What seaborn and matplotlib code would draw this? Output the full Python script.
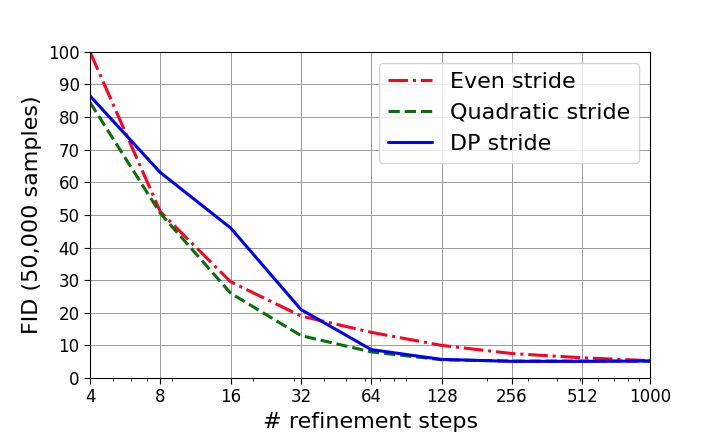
import matplotlib
matplotlib.use("Agg")
import matplotlib.pyplot as plt
import seaborn as sns
import pandas as pd

# refinement steps and FID values
steps = [4, 8, 16, 32, 64, 128, 256, 512, 1000]
even_fid = [100.0, 51.0, 29.5, 19.0, 14.0, 10.0, 7.5, 6.2, 5.3]
quad_fid = [84.5, 50.5, 26.0, 13.0, 8.0, 5.6, 5.2, 5.2, 5.2]
dp_fid = [86.5, 63.0, 46.0, 21.0, 8.7, 5.7, 5.1, 5.1, 5.2]
series_names = ["Even stride", "Quadratic stride", "DP stride"]
xtick_labels = ["4", "8", "16", "32", "64", "128", "256", "512", "1000"]

df = pd.DataFrame({
    "steps": steps * 3,
    "fid": even_fid + quad_fid + dp_fid,
    "method": [n for n in series_names for _ in steps],
})

sns.set_style("white")
plt.rcParams["font.family"] = ["DejaVu Sans"]
plt.rcParams["text.color"] = "black"
plt.rcParams["axes.labelcolor"] = "black"
plt.rcParams["xtick.color"] = "black"
plt.rcParams["ytick.color"] = "black"

fig = plt.figure(figsize=(7.2, 4.32), dpi=100)
ax = fig.add_axes([0.125, 0.125, 0.778, 0.755])

palette = {"Even stride": "#ff0022", "Quadratic stride": "#0a6e0a", "DP stride": "#0000ee"}
dashes = {"Even stride": (6.4, 1.6, 1.0, 1.6), "Quadratic stride": (3.7, 1.6), "DP stride": ""}

sns.lineplot(data=df, x="steps", y="fid", hue="method", style="method",
             palette=palette, dashes=dashes, linewidth=2.2, ax=ax)

ax.set_xscale("log")
ax.set_xlim(4, 1000)
ax.set_ylim(0, 100)
ax.set_xticks(steps)
ax.set_xticklabels(xtick_labels)
ax.set_yticks(range(0, 101, 10))
ax.tick_params(axis="both", which="major", labelsize=12, length=4, direction="out",
               bottom=True, left=True)
ax.tick_params(axis="x", which="minor", length=2, bottom=True)
ax.grid(True, which="major", color="#999999", linewidth=0.7)
for s in ax.spines.values():
    s.set_color("black")
    s.set_linewidth(0.8)

ax.set_xlabel("# refinement steps", fontsize=16)
ax.set_ylabel("FID (50,000 samples)", fontsize=16)

leg = ax.legend(loc="upper right", fontsize=16, handlelength=2.0, framealpha=0.8)
leg.set_title(None)

fig.savefig("out.png", dpi=100)
